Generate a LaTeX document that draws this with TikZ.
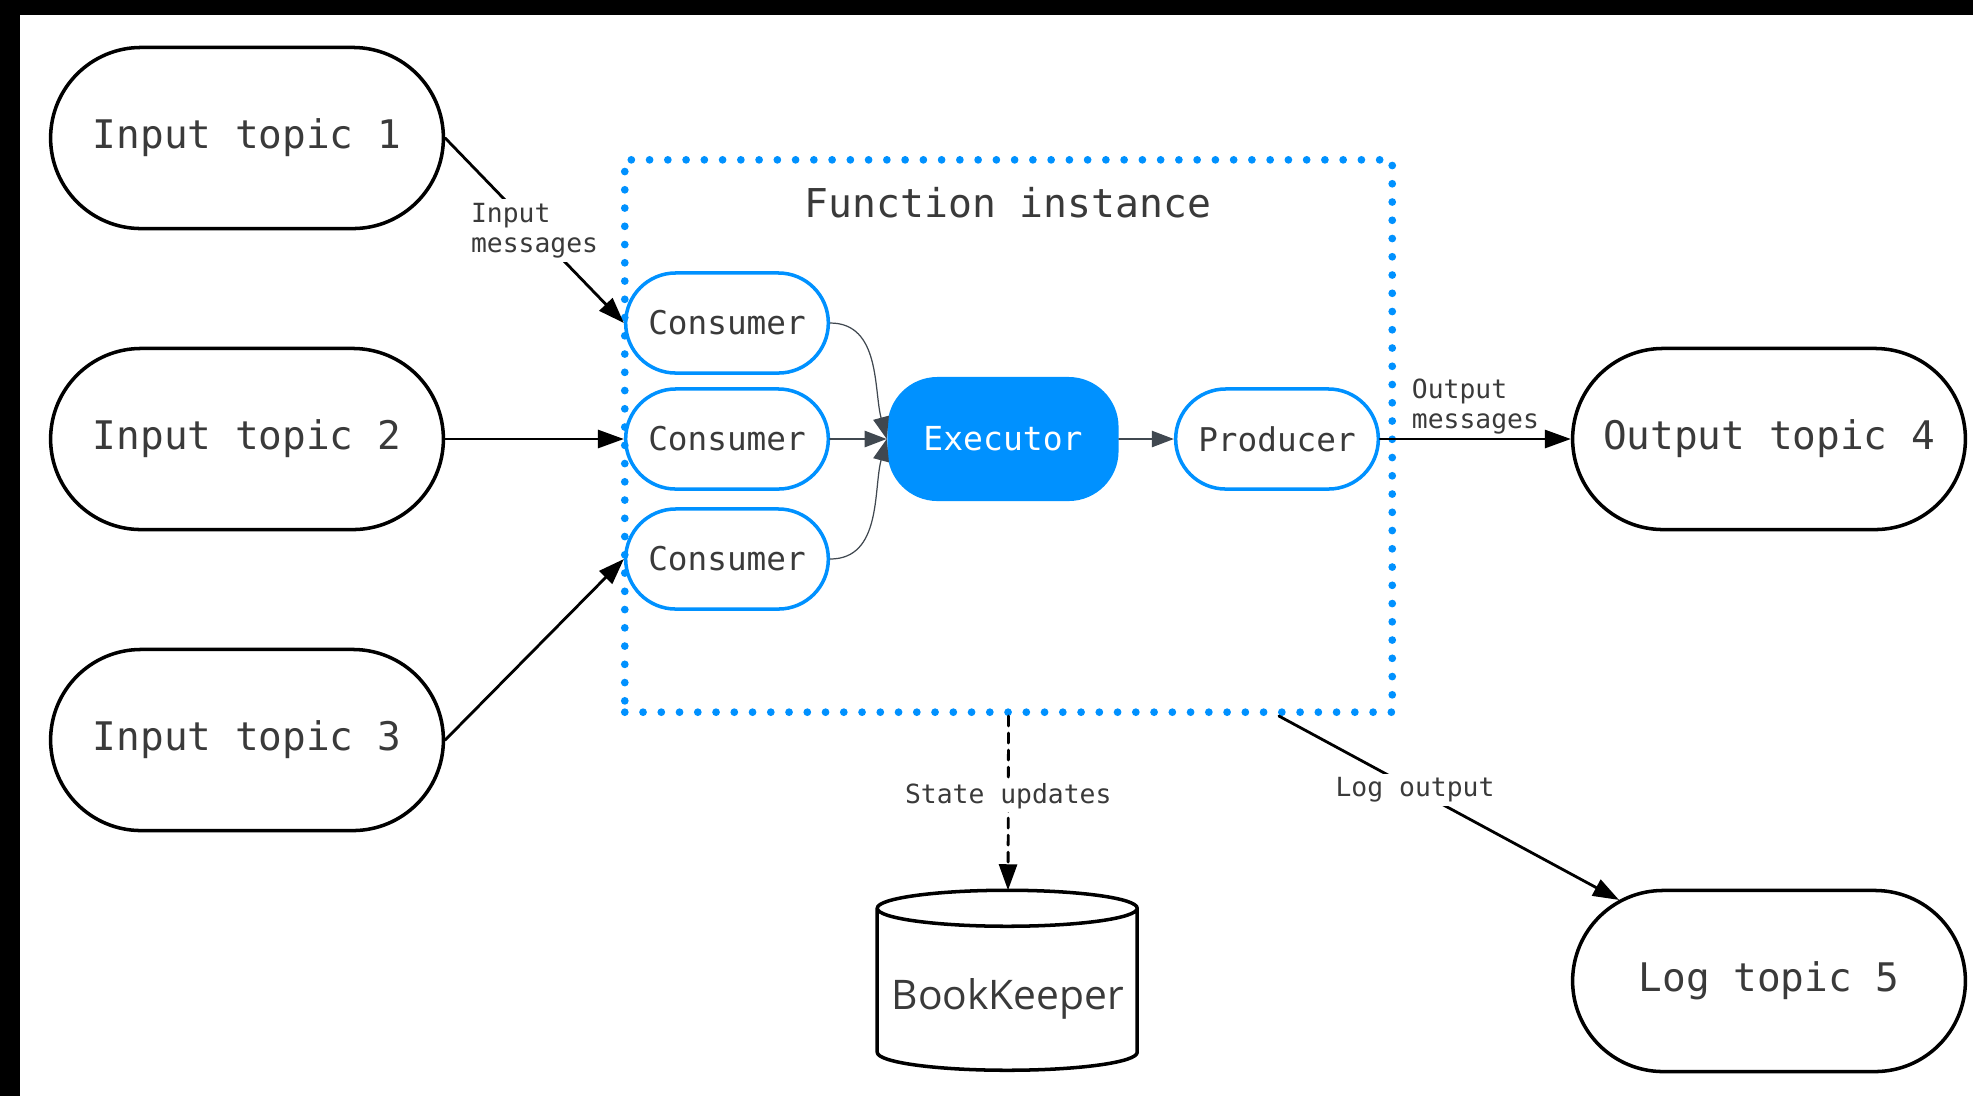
\documentclass[tikz,border=0pt]{standalone}
\usepackage{fontspec}
\setmonofont{DejaVu Sans Mono}
\newfontfamily\bkfont{Open Sans}
\usetikzlibrary{arrows.meta,shapes.misc,positioning}

\definecolor{fnblue}{RGB}{0,145,255}
\definecolor{inktext}{RGB}{58,58,58}
\definecolor{slate}{RGB}{64,72,80}

\tikzset{
  topic/.style={rounded rectangle, draw=black, line width=1pt, minimum width=4.16cm,
    minimum height=1.81cm, text=inktext, font=\ttfamily\fontsize{11.2}{13}\selectfont},
  part/.style={rounded rectangle, draw=fnblue, line width=1pt, minimum width=2.26cm,
    minimum height=1cm, text=inktext, font=\ttfamily\fontsize{9.3}{11}\selectfont},
  runner/.style={rectangle, rounded corners=0.5cm, fill=fnblue, minimum width=2.31cm,
    minimum height=1.24cm, text=white, font=\ttfamily\fontsize{9.4}{11}\selectfont},
  frame/.style={draw=fnblue, line width=2.2pt, dash pattern=on 0pt off 5.19pt,
    minimum width=7.67cm, minimum height=5.52cm},
  flow/.style={-{Triangle[length=0.26cm,width=0.18cm]}, line width=0.8pt},
  feed/.style={-{Triangle[length=0.22cm,width=0.16cm]}, draw=slate},
  edgetext/.style={fill=white, text=inktext, font=\ttfamily\fontsize{7.5}{8.6}\selectfont,
    inner sep=1pt, align=left}
}

\begin{document}
\begin{tikzpicture}[x=0.01cm,y=-0.01cm,line cap=round,line join=round]
  \useasboundingbox (0,0) rectangle (1973,1096);
  \fill[black] (0,0) rectangle (1973,15);
  \fill[black] (0,0) rectangle (20,1096);

  % topics
  \node[topic] (in1) at (247,138) {Input topic 1};
  \node[topic] (in2) at (247,439) {Input topic 2};
  \node[topic] (in3) at (247,740) {Input topic 3};
  \node[topic] (out4) at (1769,439) {Output topic 4};
  \node[topic] (log5) at (1769,981) {Log topic 5};

  % function instance
  \node[frame] (fi) at (1008.5,436) {};
  \node[text=inktext, font=\ttfamily\fontsize{11.3}{13}\selectfont] (fititle) at (1008,203) {Function instance};
  \node[part] (c1) at (727,323) {Consumer};
  \node[part] (c2) at (727,439) {Consumer};
  \node[part] (c3) at (727,559) {Consumer};
  \node[runner] (exec) at (1003,439) {Executor};
  \node[part] (prod) at (1277,439) {Producer};

  % bookkeeper
  \node[minimum width=2.6cm, minimum height=1.8cm] (bk) at (1008,981) {};
  \draw[line width=1pt] (bk.north west) ++(0,18) -- ++(0,144)
    arc[start angle=180, end angle=0, x radius=130, y radius=18] -- ++(0,-144)
    arc[start angle=0, end angle=-180, x radius=130, y radius=18]
    arc[start angle=180, end angle=0, x radius=130, y radius=18];
  \node[text=inktext, font=\bkfont\fontsize{11.6}{13}\selectfont] (bklabel) at (1008,999) {BookKeeper};

  % connectors
  \draw[flow] (in1.east) -- node[edgetext] {Input\\messages} (c1.west);
  \draw[flow] (in2.east) -- (c2.west);
  \draw[flow] (in3.east) -- (c3.west);
  \draw[feed, line width=0.35pt] (c1.east) to[out=0, in=105] (exec.west);
  \draw[feed, line width=0.7pt] (c2.east) -- (exec.west);
  \draw[feed, line width=0.35pt] (c3.east) to[out=0, in=-105] (exec.west);
  \draw[feed, line width=0.7pt] (exec.east) -- (prod.west);
  \draw[flow] (prod.east) -- node[edgetext, fill=none, above] {Output\\messages} (out4.west);
  \draw[flow, dash pattern=on 0.1cm off 0.07cm] (fi.south) -- node[edgetext, pos=0.46] {State updates} (bk.north);
  \draw[flow] (fi.-46) -- node[edgetext, pos=0.4] {Log output} (log5);
\end{tikzpicture}
\end{document}
